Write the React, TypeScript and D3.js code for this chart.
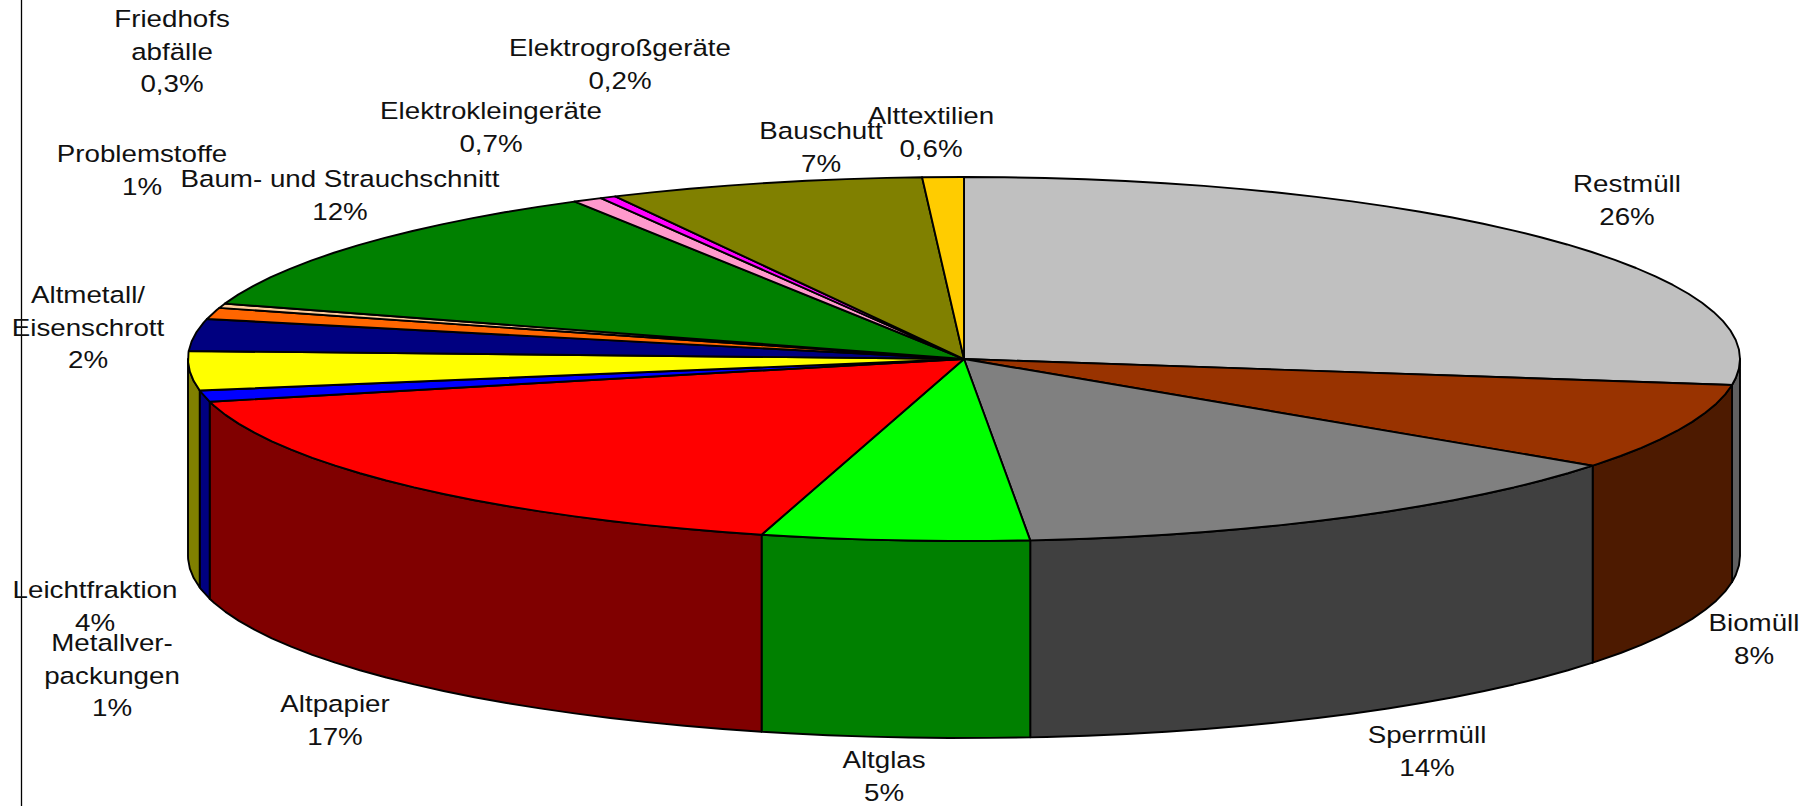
import React from "react";
import * as d3 from "d3";

// Slice shares (clockwise from 12 o'clock)
const categories = [
  "Restmüll", "Biomüll", "Sperrmüll", "Altglas", "Altpapier", "Metallverpackungen", "Leichtfraktion",
  "Altmetall/Eisenschrott", "Problemstoffe", "Friedhofsabfälle", "Baum- und Strauchschnitt",
  "Elektrokleingeräte", "Elektrogroßgeräte", "Bauschutt", "Alttextilien",
];
const shares = [27.28, 7.69, 13.67, 5.56, 17.03, 1.0, 3.47, 2.83, 1.0, 0.39, 11.72, 0.61, 0.33, 6.56, 0.86];
const printedShares = ["26%", "8%", "14%", "5%", "17%", "1%", "4%", "2%", "1%", "0,3%", "12%", "0,7%", "0,2%", "7%", "0,6%"];
const labelNames = [
  ["Restmüll"], ["Biomüll"], ["Sperrmüll"], ["Altglas"], ["Altpapier"], ["Metallver-", "packungen"], ["Leichtfraktion"],
  ["Altmetall/", "Eisenschrott"], ["Problemstoffe"], ["Friedhofs", "abfälle"], ["Baum- und Strauchschnitt"],
  ["Elektrokleingeräte"], ["Elektrogroßgeräte"], ["Bauschutt"], ["Alttextilien"],
];
const topColors = [
  "#C0C0C0", "#993300", "#808080", "#00FF00", "#FF0000", "#0000FF", "#FFFF00",
  "#000080", "#FF6600", "#FFCC99", "#008000", "#FF99CC", "#FF00FF", "#808000", "#FFCC00",
];
const wallColors = [
  "#606060", "#4D1A00", "#404040", "#008000", "#800000", "#000080", "#808000",
  "#000040", "#803300", "#806650", "#004000", "#804D66", "#800080", "#404000", "#806600",
];

// Centre x and first baseline of each label
const labelAnchors: [number, number][] = [
  [1627, 192], [1754, 631], [1427, 743], [884, 768], [335, 712], [112, 651], [95, 598],
  [88, 303], [142, 162], [172, 27], [340, 187], [491, 119], [620, 56], [821, 139], [931, 124],
];

const W = 1813, H = 806;
const CX = 964, CY = 359, RX = 776, RY = 182, DEPTH = 197;
const LINE = 32.7, FONT = 23.5, STRETCH = 1.18;

const sx = d3.scaleLinear().domain([-1, 1]).range([CX - RX, CX + RX]);
const sy = d3.scaleLinear().domain([-1, 1]).range([CY - RY, CY + RY]);
const line = d3.line<[number, number]>().curve(d3.curveLinear);
const STEP = Math.PI / 60;

const pt = (a: number, dy = 0): [number, number] => [sx(Math.sin(a)), sy(-Math.cos(a)) + dy];
const arcAngles = (a0: number, a1: number) => [...d3.range(a0, a1, STEP), a1];

const arcs = d3.pie<number>().sort(null).startAngle(0).endAngle(2 * Math.PI)(shares);

export default function App() {
  const walls = arcs
    .map((d, i) => ({
      i,
      a0: Math.max(d.startAngle, Math.PI / 2),
      a1: Math.min(d.endAngle, (3 * Math.PI) / 2),
    }))
    .filter((d) => d.a1 > d.a0);

  return (
    <svg
      width={W}
      height={H}
      viewBox={`0 0 ${W} ${H}`}
      style={{ position: "absolute", left: 0, top: 0, display: "block", background: "#fff" }}
    >
      <line x1={21.5} x2={21.5} y1={0} y2={H} stroke="#000" strokeWidth={1.3} />
      {walls.map((w) => {
        const as = arcAngles(w.a0, w.a1);
        const points = [...as.map((a) => pt(a)), ...as.slice().reverse().map((a) => pt(a, DEPTH))];
        return (
          <path
            key={categories[w.i]}
            d={line(points) + "Z"}
            fill={wallColors[w.i]}
            stroke="#000"
            strokeWidth={1.9}
            strokeLinejoin="round"
          />
        );
      })}
      {arcs.map((d, i) => {
        const points: [number, number][] = [[CX, CY], ...arcAngles(d.startAngle, d.endAngle).map((a) => pt(a))];
        return (
          <path
            key={categories[i]}
            d={line(points) + "Z"}
            fill={topColors[i]}
            stroke="#000"
            strokeWidth={1.9}
            strokeLinejoin="round"
          />
        );
      })}
      <g fontFamily="'Liberation Sans', Arial, sans-serif" fontSize={FONT} fill="#111" textAnchor="middle">
        {labelNames.map((names, i) => {
          const [x, y] = labelAnchors[i];
          return (
            <text key={categories[i]} transform={`translate(${x},${y}) scale(${STRETCH},1)`}>
              {[...names, printedShares[i]].map((s, k) => (
                <tspan key={k} x={0} y={k * LINE}>
                  {s}
                </tspan>
              ))}
            </text>
          );
        })}
      </g>
    </svg>
  );
}
